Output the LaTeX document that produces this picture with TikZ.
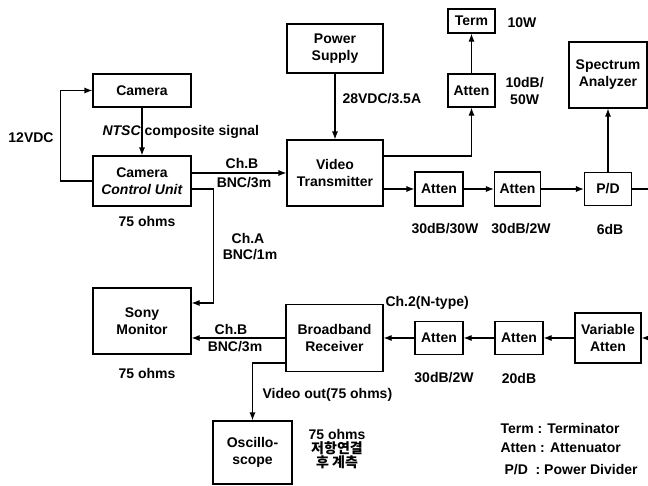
\documentclass[tikz,border=0pt]{standalone}
\usepackage{fontspec}
\setmainfont{Liberation Sans}
\newfontfamily\korfont{Noto Sans CJK KR}
\usepackage{tikz}
\usetikzlibrary{arrows.meta}

\begin{document}
\begin{tikzpicture}[x=1pt,y=-1pt,>={Latex[length=8pt,width=6pt]},
    every node/.style={font=\fontsize{14}{17}\selectfont\bfseries},
    blk/.style={draw,line width=1.1pt,inner sep=0pt,align=center},
    lbl/.style={inner sep=0pt,align=center},
    every path/.append style={line width=1.1pt}]
        \useasboundingbox (0,0) rectangle (648,485);
        % Top chain
        \node[blk,minimum width=98pt,minimum height=33pt] (cam) at (142,90.5) {Camera};
        \node[blk,minimum width=98pt,minimum height=50pt] (ccu) at (142,181) {Camera\\\textit{Control Unit}};
        \node[blk,minimum width=96pt,minimum height=49pt] (ps) at (335,48.5) {Power\\Supply};
        \node[blk,minimum width=96pt,minimum height=66pt] (vt) at (335,173) {Video\\Transmitter};
        \node[blk,minimum width=47pt,minimum height=24pt] (term) at (471.5,21) {Term};
        \node[blk,minimum width=47pt,minimum height=33pt] (atU) at (471.5,90.5) {Atten};
        \node[blk,minimum width=48pt,minimum height=34pt] (at1) at (439,189) {Atten};
        \node[blk,minimum width=46pt,minimum height=34pt] (at2) at (517.5,189) {Atten};
        \node[blk,minimum width=47pt,minimum height=33pt] (pd) at (608,189) {P/D};
        \node[blk,minimum width=78pt,minimum height=66pt] (sa) at (608,75) {Spectrum\\Analyzer};
        % Bottom chain
        \node[blk,minimum width=98pt,minimum height=66pt] (sony) at (142,321) {Sony\\Monitor};
        \node[blk,minimum width=97pt,minimum height=67pt] (br) at (334.5,338) {Broadband\\Receiver};
        \node[blk,minimum width=48pt,minimum height=33pt] (at3) at (439,338) {Atten};
        \node[blk,minimum width=48pt,minimum height=33pt] (at4) at (519,338) {Atten};
        \node[blk,minimum width=66pt,minimum height=50pt] (va) at (608,338) {Variable\\Atten};
        \node[blk,minimum width=79pt,minimum height=63pt] (osc) at (252.5,452.5) {Oscillo-\\scope};
        \coordinate (rim) at (662,189);
        % Connectors
        \draw[->] (ccu.west) -- ++(-32,0) |- (cam.west);
        \draw[->] (cam.south) -- (ccu.north);
        \draw[->] ([yshift=8pt]ccu.east) -- (vt.west);
        \draw[->] ([yshift=-8pt]ccu.east) -- ++(22,0) |- ([yshift=18pt]sony.east);
        \draw[->] (ps.south) -- (vt.north);
        \draw[->] ([yshift=17pt]vt.east) -| (atU.south);
        \draw[->] (atU.north) -- (term.south);
        \draw[->] ([yshift=-16pt]vt.east) -- (at1.west);
        \draw[->] (at1.east) -- (at2.west);
        \draw[->] (at2.east) -- (pd.west);
        \draw[->] (pd.north) -- (sa.south);
        \draw[->] (pd.east) -- (rim) |- (va.east);
        \draw[->] (va.west) -- (at4.east);
        \draw[->] (at4.west) -- (at3.east);
        \draw[->] (at3.west) -- (br.west -| br.east);
        \draw[->] (br.west) -- (br.west -| sony.east);
        \draw[->] ([yshift=-25pt]br.west) -| (osc.north);
        % Labels
        \node[lbl] (l12v) at (31,138) {12VDC};
        \node[lbl,anchor=west] (lntsc) at (102,132) {\textit{NTSC} composite signal};
        \node[lbl] (lccu) at (147,221) {75 ohms};
        \node[lbl] (lchb) at (242,163) {Ch.B};
        \node[lbl] (lbnc) at (244,183) {BNC/3m};
        \node[lbl] (lcha) at (248,238) {Ch.A};
        \node[lbl] (lbnca) at (250,255) {BNC/1m};
        \node[lbl,anchor=west] (lps) at (342,99) {28VDC/3.5A};
        \node[lbl,anchor=west] (lterm) at (507,23) {10W};
        \node[lbl,anchor=west] (latU) at (505,90.5) {10dB/\\50W};
        \node[lbl] (lat1) at (445,229) {30dB/30W};
        \node[lbl] (lat2) at (521,229) {30dB/2W};
        \node[lbl] (lpd) at (610,229) {6dB};
        \node[lbl,anchor=west] (lch2) at (385,303) {Ch.2(N-type)};
        \node[lbl] (lat3) at (444,378) {30dB/2W};
        \node[lbl] (lat4) at (519,378) {20dB};
        \node[lbl] (lchb2) at (231,329) {Ch.B};
        \node[lbl] (lbnc2) at (235,347) {BNC/3m};
        \node[lbl] (lsony) at (147,373) {75 ohms};
        \node[lbl,anchor=west] (lvid) at (262,395) {Video out(75 ohms)};
        \node[lbl,font=\fontsize{14}{14}\selectfont\bfseries] (losc) at (337,449) {75 ohms\\{\korfont 저항연결}\\{\korfont 후 계측}};
        % Legend
        \node[lbl,anchor=west] (leg1) at (500,428) {Term : Terminator};
        \node[lbl,anchor=west] (leg2) at (500,448) {Atten : Attenuator};
        \node[lbl,anchor=west] (leg3) at (504,470) {P/D~ : Power Divider};
\end{tikzpicture}
\end{document}
